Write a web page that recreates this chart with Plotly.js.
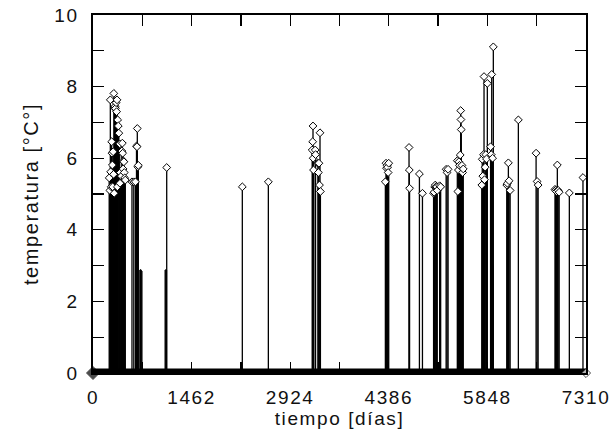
<!DOCTYPE html>
<html>
<head>
<meta charset="utf-8">
<script src="https://cdn.plot.ly/plotly-3.0.1.min.js"></script>
<style>
  html, body { margin: 0; padding: 0; background: #fff; }
  #chart { width: 612px; height: 448px; }
  #chart text { letter-spacing: 1.6px; }
</style>
</head>
<body>
<div id="chart"></div>
<script>
// Days (tiempo) with temperature stems and their values (°C)
const dias = [
  240, 250, 257, 262, 270, 277, 282, 287, 292, 299, 305, 309, 314, 320, 328, 333, 342, 350, 356, 361, 366, 375, 383, 396, 400, 405,
  420, 428, 435, 440, 446, 452, 458, 464, 470, 479,
  578, 605, 630, 645, 652, 657, 665, 672,
  1093, 2214, 2600,
  3250, 3257, 3262, 3265, 3270, 3295, 3300, 3335, 3342, 3350, 3358, 3366, 3372,
  4335, 4345, 4352, 4360, 4368, 4376, 4385,
  4686, 4690, 4694, 4840, 4885,
  5050, 5058, 5066, 5075, 5085, 5096, 5104, 5140, 5155,
  5236, 5250, 5265,
  5402, 5410, 5418, 5425, 5434, 5445, 5452, 5456, 5460, 5470, 5480, 5490,
  5765, 5772, 5780, 5790, 5798, 5805, 5815, 5825, 5835, 5847,
  5895, 5905, 5912, 5925, 5936,
  6135, 6145, 6159, 6170, 6185, 6307,
  6570, 6585, 6600,
  6850, 6860, 6872, 6885, 6898, 6912,
  7063, 7265
];
const temperatura = [
  5.45, 5.10, 7.63, 5.62, 5.20, 6.46, 6.14, 5.81, 5.20, 6.18, 5.55, 7.81, 5.02, 7.40, 7.45, 7.39, 7.55, 7.30, 7.63, 5.20, 7.07, 6.90, 6.70, 6.40, 5.30, 5.60,
  5.50, 6.20, 6.42, 6.14, 5.70, 5.92, 5.90, 5.60, 5.45, 5.39,
  5.34, 5.34, 5.34, 6.34, 6.32, 6.83, 5.76, 5.80,
  5.74, 5.20, 5.34,
  6.23, 6.46, 6.90, 6.00, 5.67, 6.23, 6.10, 5.86, 5.60, 5.86, 5.25, 6.71, 5.07,
  5.34, 5.86, 5.72, 5.80, 5.75, 5.60, 5.86,
  6.30, 5.67, 5.16, 5.56, 5.02,
  5.02, 5.05, 5.20, 5.25, 5.20, 5.20, 5.10, 5.23, 5.20,
  5.69, 5.60, 5.69,
  5.93, 5.07, 5.67, 5.90, 5.80, 6.09, 7.33, 7.08, 6.80, 5.80, 5.60, 5.70,
  5.25, 5.97, 5.50, 6.10, 8.28, 5.40, 5.75, 6.10, 5.98, 8.09,
  6.32, 6.10, 8.34, 6.00, 9.11,
  5.25, 5.30, 5.87, 5.37, 5.10, 7.07,
  6.14, 5.35, 5.25,
  5.13, 5.10, 5.07, 5.81, 5.10, 5.05,
  5.03, 5.46
];
// Short stems drawn without markers
const diasCortos = [695, 705, 715, 725, 1070, 1080, 1090, 5900, 5915, 5930];
const tempCortos = [2.88, 2.90, 2.88, 2.85, 2.88, 2.90, 2.88, 3.06, 3.06, 3.00];
// Baseline (zero level) extent
const baseDias = [0, 7310];
const baseTemp = [0, 0];
// Axis ticks
const ticksX = [0, 731, 1462, 2193, 2924, 3655, 4386, 5117, 5848, 6579, 7310];
const etiquetasX = ['0', '', '1462', '', '2924', '', '4386', '', '5848', '', '7310'];
const ticksY = [0, 1, 2, 3, 4, 5, 6, 7, 8, 9, 10];
const etiquetasY = ['0', '', '2', '', '4', '', '6', '', '8', '', '10'];

function stems(xs, ys) {
  const sx = [], sy = [];
  xs.forEach((d, i) => { sx.push(d, d, null); sy.push(0, ys[i], null); });
  return { sx, sy };
}
const s1 = stems(dias, temperatura);
const s2 = stems(diasCortos, tempCortos);

const fontFam = 'Liberation Sans, Arial, sans-serif';

const traces = [
  { x: s1.sx, y: s1.sy, type: 'scatter', mode: 'lines',
    line: { color: '#000', width: 1.3 }, hoverinfo: 'skip', showlegend: false },
  { x: s2.sx, y: s2.sy, type: 'scatter', mode: 'lines',
    line: { color: '#000', width: 1.3 }, hoverinfo: 'skip', showlegend: false },
  { x: dias, y: temperatura, type: 'scatter', mode: 'markers',
    marker: { symbol: 'diamond', size: 6, color: '#fff', line: { color: '#000', width: 1 } },
    showlegend: false },
  { x: baseDias, y: baseTemp, type: 'scatter', mode: 'lines+markers', cliponaxis: false,
    line: { color: '#000', width: 9 },
    marker: { symbol: 'diamond', size: [10, 7], color: ['#000', '#fff'], line: { color: '#000', width: 1 } },
    showlegend: false }
];

const layout = {
  width: 612, height: 448,
  margin: { l: 93, r: 26, t: 15, b: 75 },
  paper_bgcolor: '#fff', plot_bgcolor: '#fff',
  font: { family: fontFam, size: 19, color: '#111' },
  xaxis: {
    range: [0, 7310], tickmode: 'array', tickvals: ticksX, ticktext: etiquetasX,
    ticks: 'inside', ticklen: 11, tickwidth: 1.3, tickcolor: '#000',
    showline: true, linecolor: '#000', linewidth: 1.6, mirror: 'ticks',
    showgrid: false, zeroline: false, ticklabelstandoff: 7,
    title: { text: 'tiempo [días]', font: { family: fontFam, size: 19, color: '#111' }, standoff: 2 }
  },
  yaxis: {
    range: [0, 10], tickmode: 'array', tickvals: ticksY, ticktext: etiquetasY,
    ticks: 'inside', ticklen: 11, tickwidth: 1.3, tickcolor: '#000',
    showline: true, linecolor: '#000', linewidth: 1.6, mirror: 'ticks',
    showgrid: false, zeroline: false, ticklabelstandoff: 9,
    title: { text: 'temperatura [°C°]', font: { family: fontFam, size: 20, color: '#111' }, standoff: 13 }
  }
};

Plotly.newPlot('chart', traces, layout, { displayModeBar: false, staticPlot: true });
</script>
</body>
</html>
